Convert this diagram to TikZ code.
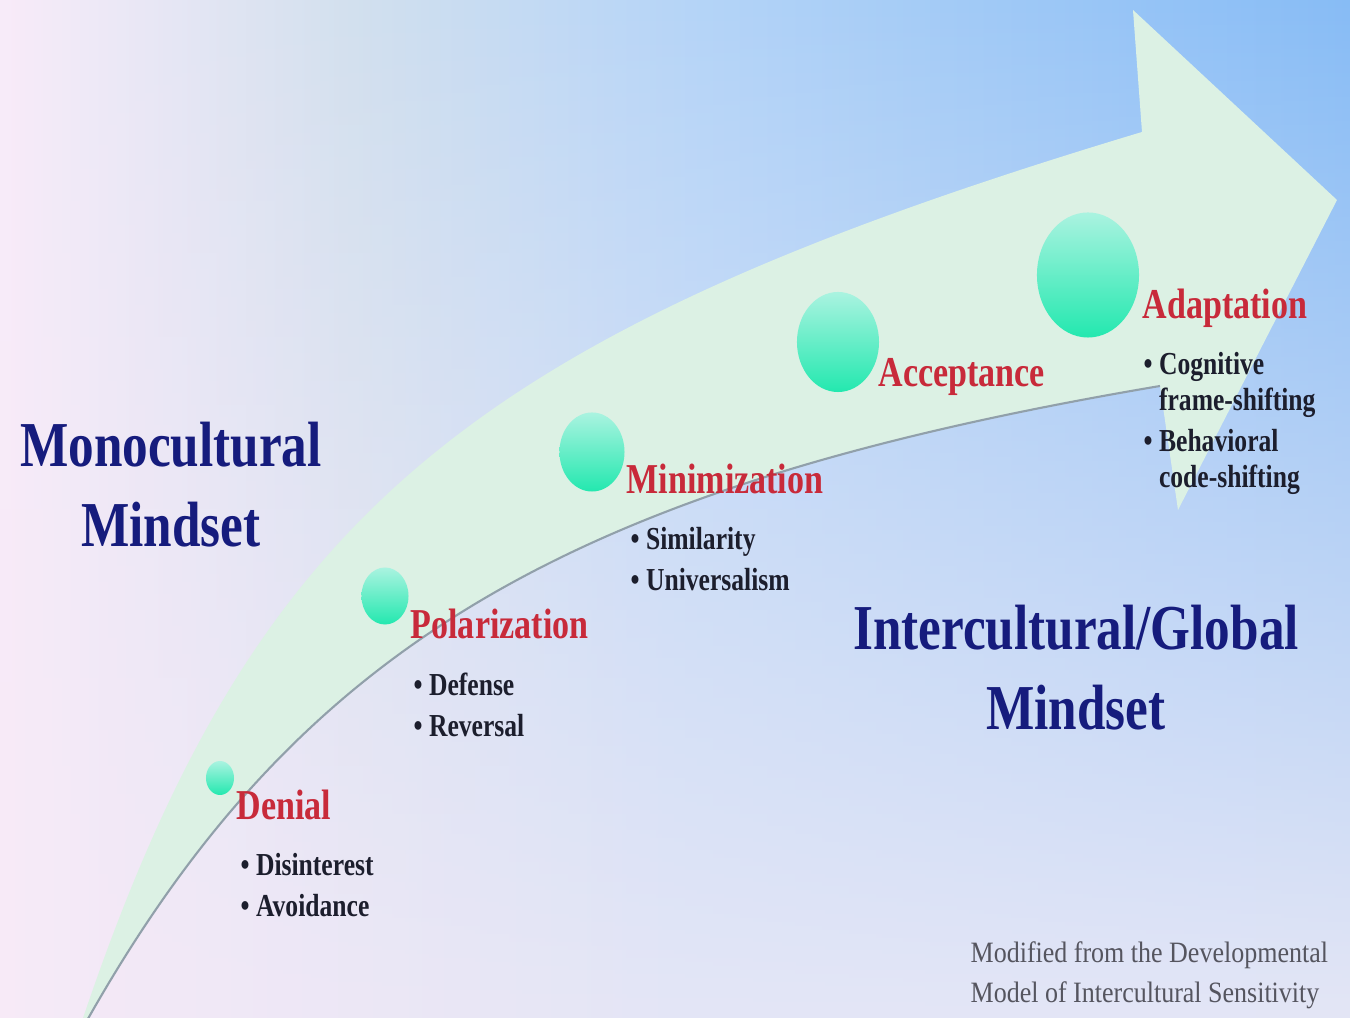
\documentclass[tikz,border=0pt]{standalone}
\usepackage{fontspec}
\setmainfont{Liberation Serif}[FakeStretch=0.8]
\newfontfamily\notefont{Liberation Serif}[FakeStretch=0.88]
\usetikzlibrary{positioning, shapes.geometric, fadings}

\definecolor{mindblue}{RGB}{22,28,125}
\definecolor{stagered}{RGB}{200,42,58}
\definecolor{itemdark}{RGB}{28,30,45}
\definecolor{arrowfill}{RGB}{220,241,228}
\definecolor{arrowline}{RGB}{145,160,170}
\definecolor{spheretop}{RGB}{170,243,224}
\definecolor{spherebot}{RGB}{35,232,175}
\definecolor{notegray}{RGB}{85,85,95}
\definecolor{bgpink}{RGB}{247,234,247}
\definecolor{bgbottom}{RGB}{228,230,246}

\pgfdeclarehorizontalshading{slidebg}{100bp}{%
  rgb(0bp)=(0.973,0.925,0.980); rgb(25bp)=(0.973,0.925,0.980);
  rgb(38bp)=(0.824,0.878,0.933); rgb(51bp)=(0.706,0.831,0.973);
  rgb(75bp)=(0.529,0.737,0.961); rgb(100bp)=(0.529,0.737,0.961)}

\tikzset{%
  mindset/.style={align=center, text=mindblue, inner sep=0pt,
    font=\fontsize{18.2}{22.7}\selectfont\bfseries},
  stage/.style={anchor=base west, text=stagered, inner sep=0pt,
    font=\fontsize{12.1}{14}\selectfont\bfseries},
  items/.style={align=left, text=itemdark, inner sep=0pt,
    font=\fontsize{9.1}{10.2}\selectfont\bfseries},
  sphere/.style={ellipse, inner sep=0pt, top color=spheretop, bottom color=spherebot},
  note/.style={align=left, text=notegray, inner sep=0pt,
    font=\notefont\fontsize{8.4}{11.4}\selectfont},
  bigarrow/.style={fill=arrowfill},
  arrowedge/.style={draw=arrowline, line width=0.6pt}
}

\begin{document}
\begin{tikzpicture}[x=0.01cm, y=0.01cm]
  \useasboundingbox (0,0) rectangle (1350,1018);
  \clip (0,0) rectangle (1350,1018);

  % background
  \shade[shading=slidebg] (0,0) rectangle (1350,1018);
  \shade[left color=bgpink, right color=bgbottom, middle color=bgbottom, path fading=north]
    (0,0) rectangle (1350,1018);

  % the arrow
  \coordinate (tail) at (78,-15);
  \coordinate (tailend) at (80,-15);
  \coordinate (notch) at (1142,886);
  \coordinate (barbtop) at (1133,1008);
  \coordinate (tip) at (1337,818);
  \coordinate (barbbot) at (1178,508);
  \coordinate (notchlow) at (1160,632);

  \fill[bigarrow] (tail) .. controls (250,502) and (463,682) .. (notch)
    -- (barbtop) -- (tip) -- (barbbot) -- (notchlow)
    .. controls (563,531) and (293,369) .. (tailend) -- cycle;
  \draw[arrowedge] (notchlow) .. controls (563,531) and (293,369) .. (tailend);

  % stages
  \node[sphere, minimum width=0.28cm, minimum height=0.34cm] (c1) at (220,240) {};
  \node[sphere, minimum width=0.47cm, minimum height=0.57cm] (c2) at (385,422) {};
  \node[sphere, minimum width=0.65cm, minimum height=0.79cm] (c3) at (592,566) {};
  \node[sphere, minimum width=0.82cm, minimum height=1.00cm] (c4) at (838,676) {};
  \node[sphere, minimum width=1.02cm, minimum height=1.25cm] (c5) at (1088,743) {};

  \node[stage] (l1) at (236,198) {Denial};
  \node[stage] (l2) at (410,379) {Polarization};
  \node[stage] (l3) at (626,524) {Minimization};
  \node[stage] (l4) at (878,631) {Acceptance};
  \node[stage] (l5) at (1142,699) {Adaptation};

  \node[items, below right=0.33cm and 0.04cm of l1.base west] (i1)
    {\textbullet\ Disinterest\\[1.4pt]\textbullet\ Avoidance};
  \node[items, below right=0.33cm and 0.03cm of l2.base west] (i2)
    {\textbullet\ Defense\\[1.4pt]\textbullet\ Reversal};
  \node[items, below right=0.33cm and 0.04cm of l3.base west] (i3)
    {\textbullet\ Similarity\\[1.4pt]\textbullet\ Universalism};
  \node[items, below right=0.33cm and 0.01cm of l5.base west] (i5)
    {\textbullet\ Cognitive\\\phantom{\textbullet\ }frame-shifting\\[1.4pt]\textbullet\ Behavioral\\\phantom{\textbullet\ }code-shifting};

  % mindsets
  \node[mindset] (mono) at (171,533) {Monocultural\\Mindset};
  \node[mindset] (inter) at (1076,350) {Intercultural/Global\\Mindset};

  \node[note, anchor=north west] (src) at (970,77)
    {Modified from the Developmental\\Model of Intercultural Sensitivity};
\end{tikzpicture}
\end{document}
